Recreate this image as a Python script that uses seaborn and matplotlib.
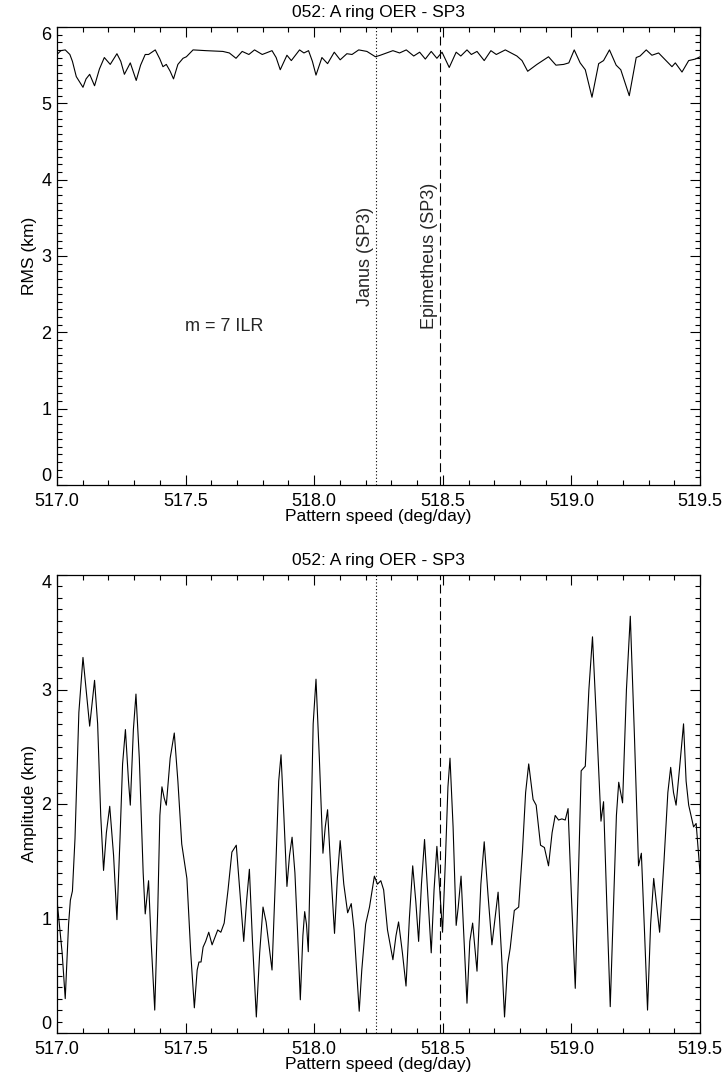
import numpy as np
import pandas as pd
import matplotlib
matplotlib.use("Agg")
import matplotlib.pyplot as plt
import seaborn as sns
from matplotlib.ticker import MultipleLocator

# ---------------- data ----------------
title = "052: A ring OER - SP3"
xlabel = "Pattern speed (deg/day)"
top_ylabel = "RMS (km)"
bot_ylabel = "Amplitude (km)"
janus_speed = 518.24
epimetheus_speed = 518.49
janus_label = "Janus (SP3)"
epimetheus_label = "Epimetheus (SP3)"
resonance_label = "m = 7 ILR"

rms_speed = [
    517.000, 517.015, 517.032, 517.050, 517.060, 517.075, 517.101, 517.113, 517.127, 517.146,
    517.165, 517.184, 517.207, 517.233, 517.248, 517.262, 517.285, 517.308, 517.325, 517.343,
    517.356, 517.382, 517.400, 517.412, 517.425, 517.440, 517.453, 517.470, 517.490, 517.503,
    517.529, 517.580, 517.645, 517.670, 517.696, 517.720, 517.746, 517.768, 517.798, 517.836,
    517.852, 517.868, 517.894, 517.911, 517.943, 517.960, 517.978, 517.993, 518.007, 518.030,
    518.052, 518.078, 518.101, 518.127, 518.147, 518.173, 518.205, 518.238, 518.257, 518.306,
    518.332, 518.358, 518.387, 518.410, 518.432, 518.455, 518.477, 518.497, 518.525, 518.552,
    518.570, 518.594, 518.611, 518.633, 518.661, 518.687, 518.708, 518.743, 518.788, 518.808,
    518.830, 518.866, 518.911, 518.940, 518.970, 518.990, 519.011, 519.034, 519.054, 519.080,
    519.106, 519.125, 519.148, 519.174, 519.192, 519.225, 519.252, 519.267, 519.291, 519.313,
    519.339, 519.391, 519.404, 519.430, 519.456, 519.482, 519.500,
]
rms_km = [
    5.64, 5.69, 5.70, 5.64, 5.55, 5.35, 5.21, 5.32, 5.38, 5.23,
    5.45, 5.60, 5.51, 5.65, 5.55, 5.38, 5.53, 5.30, 5.50, 5.64,
    5.64, 5.70, 5.58, 5.48, 5.51, 5.42, 5.32, 5.51, 5.59, 5.61,
    5.70, 5.69, 5.68, 5.66, 5.59, 5.68, 5.64, 5.70, 5.64, 5.69,
    5.60, 5.44, 5.63, 5.56, 5.70, 5.66, 5.69, 5.55, 5.37, 5.60,
    5.52, 5.67, 5.57, 5.65, 5.64, 5.70, 5.68, 5.61, 5.63, 5.69,
    5.66, 5.70, 5.62, 5.67, 5.58, 5.68, 5.59, 5.67, 5.47, 5.67,
    5.62, 5.70, 5.64, 5.68, 5.56, 5.69, 5.64, 5.70, 5.62, 5.56,
    5.42, 5.51, 5.61, 5.50, 5.51, 5.53, 5.70, 5.53, 5.44, 5.08,
    5.52, 5.56, 5.70, 5.50, 5.44, 5.10, 5.60, 5.62, 5.70, 5.63,
    5.66, 5.48, 5.53, 5.41, 5.56, 5.58, 5.61,
]

amp_speed = [
    517.000, 517.020, 517.032, 517.045, 517.052, 517.060, 517.070, 517.085, 517.101, 517.113,
    517.127, 517.146, 517.158, 517.170, 517.181, 517.192, 517.205, 517.220, 517.233, 517.245,
    517.255, 517.266, 517.278, 517.285, 517.297, 517.307, 517.320, 517.335, 517.343, 517.356,
    517.366, 517.380, 517.392, 517.400, 517.408, 517.417, 517.425, 517.440, 517.456, 517.470,
    517.485, 517.495, 517.505, 517.520, 517.534, 517.545, 517.552, 517.560, 517.568, 517.578,
    517.590, 517.603, 517.625, 517.637, 517.650, 517.665, 517.680, 517.697, 517.712, 517.726,
    517.737, 517.748, 517.760, 517.775, 517.788, 517.801, 517.813, 517.825, 517.836, 517.850,
    517.862, 517.871, 517.882, 517.894, 517.904, 517.914, 517.925, 517.935, 517.946, 517.956,
    517.963, 517.970, 517.977, 517.985, 517.996, 518.007, 518.020, 518.034, 518.043, 518.052,
    518.065, 518.079, 518.090, 518.101, 518.115, 518.130, 518.144, 518.155, 518.165, 518.175,
    518.185, 518.200, 518.215, 518.234, 518.246, 518.259, 518.270, 518.285, 518.306, 518.318,
    518.328, 518.343, 518.357, 518.370, 518.383, 518.395, 518.406, 518.417, 518.429, 518.442,
    518.455, 518.466, 518.477, 518.488, 518.499, 518.510, 518.520, 518.528, 518.540, 518.552,
    518.560, 518.571, 518.583, 518.594, 518.605, 518.616, 518.633, 518.648, 518.661, 518.676,
    518.691, 518.715, 518.728, 518.740, 518.752, 518.762, 518.778, 518.795, 518.810, 518.822,
    518.834, 518.851, 518.863, 518.880, 518.895, 518.911, 518.925, 518.937, 518.950, 518.963,
    518.976, 518.987, 519.000, 519.015, 519.030, 519.038, 519.054, 519.068, 519.082, 519.098,
    519.115, 519.125, 519.138, 519.151, 519.165, 519.175, 519.184, 519.199, 519.214, 519.229,
    519.245, 519.261, 519.272, 519.284, 519.296, 519.308, 519.320, 519.343, 519.360, 519.375,
    519.386, 519.397, 519.407, 519.420, 519.436, 519.446, 519.456, 519.475, 519.485, 519.500,
]
amp_km = [
    1.16, 0.70, 0.30, 0.95, 1.16, 1.24, 1.70, 2.80, 3.28, 3.00,
    2.68, 3.08, 2.70, 1.90, 1.42, 1.75, 1.98, 1.55, 0.99, 1.70,
    2.35, 2.65, 2.20, 1.99, 2.65, 2.96, 2.40, 1.40, 1.04, 1.33,
    0.80, 0.20, 1.10, 1.90, 2.15, 2.05, 1.99, 2.40, 2.62, 2.20,
    1.65, 1.50, 1.35, 0.70, 0.22, 0.55, 0.62, 0.62, 0.75, 0.80,
    0.88, 0.77, 0.90, 0.88, 0.96, 1.25, 1.58, 1.64, 1.20, 0.80,
    1.15, 1.43, 0.80, 0.14, 0.70, 1.10, 0.97, 0.75, 0.55, 1.40,
    2.20, 2.43, 1.90, 1.28, 1.55, 1.71, 1.40, 0.90, 0.29, 0.85,
    1.06, 0.95, 0.71, 1.50, 2.70, 3.09, 2.40, 1.57, 1.80, 1.95,
    1.40, 0.87, 1.35, 1.68, 1.30, 1.05, 1.13, 0.90, 0.55, 0.19,
    0.55, 0.95, 1.10, 1.37, 1.30, 1.33, 1.25, 0.90, 0.64, 0.85,
    0.97, 0.70, 0.41, 1.00, 1.46, 1.15, 0.80, 1.30, 1.69, 1.20,
    0.70, 1.25, 1.63, 1.25, 0.88, 1.50, 2.15, 2.40, 1.80, 0.94,
    1.10, 1.37, 0.80, 0.26, 0.80, 0.96, 0.54, 1.30, 1.67, 1.20,
    0.77, 1.23, 0.70, 0.14, 0.60, 0.74, 1.07, 1.10, 1.60, 2.10,
    2.35, 2.04, 1.99, 1.64, 1.62, 1.46, 1.75, 1.90, 1.86, 1.87,
    1.86, 1.96, 1.20, 0.39, 1.60, 2.29, 2.33, 3.00, 3.46, 2.70,
    1.85, 2.02, 1.10, 0.23, 1.20, 1.90, 2.19, 2.01, 3.00, 3.64,
    2.60, 1.46, 1.57, 0.90, 0.20, 0.95, 1.35, 0.88, 1.50, 2.10,
    2.32, 2.10, 1.99, 2.30, 2.70, 2.20, 1.99, 1.80, 1.83, 1.40,
]

# ---------------- style ----------------
sns.set_theme(style="white")
plt.rcParams["font.family"] = ["Liberation Sans", "DejaVu Sans"]
plt.rcParams["font.size"] = 13

fig = plt.figure(figsize=(7.23, 10.84), dpi=100)
W, H = 723.0, 1084.0
left, right = 57 / W, 700 / W
ax1 = fig.add_axes([left, 1 - 485 / H, right - left, (485 - 27) / H])
ax2 = fig.add_axes([left, 1 - 1033 / H, right - left, (1033 - 575) / H])

df_top = pd.DataFrame({"speed": rms_speed, "rms": rms_km})
df_bot = pd.DataFrame({"speed": amp_speed, "amp": amp_km})

sns.lineplot(data=df_top, x="speed", y="rms", ax=ax1, color="black", lw=0.8, estimator=None, sort=False)
sns.lineplot(data=df_bot, x="speed", y="amp", ax=ax2, color="black", lw=0.8, estimator=None, sort=False)

for ax, ymax, ylab in [(ax1, 6, top_ylabel), (ax2, 4, bot_ylabel)]:
    ax.set_xlim(517.0, 519.5)
    ax.set_ylim(0, ymax)
    ax.axvline(janus_speed, color="black", lw=0.8, ls=(0, (1, 2)))
    ax.axvline(epimetheus_speed, color="black", lw=0.8, ls=(0, (8, 4)))
    ax.set_title(title, fontsize=12.5, pad=7, color="black")
    ax.set_xlabel(xlabel, fontsize=12.5, labelpad=-1, color="black")
    ax.set_ylabel(ylab, fontsize=12.5, labelpad=3, color="black")
    ax.xaxis.set_major_locator(MultipleLocator(0.5))
    ax.xaxis.set_minor_locator(MultipleLocator(0.1))
    ax.yaxis.set_major_locator(MultipleLocator(1))
    ax.yaxis.set_minor_locator(MultipleLocator(0.1))
    ax.xaxis.set_major_formatter(matplotlib.ticker.FormatStrFormatter("%.1f"))
    ax.tick_params(which="both", direction="in", top=True, right=True, bottom=True, left=True,
                   color="black", labelsize=13, labelcolor="black", width=0.8)
    ax.tick_params(which="major", length=7)
    ax.tick_params(which="minor", length=3.5)
    ax.tick_params(axis="x", which="major", pad=6)
    ax.tick_params(axis="y", which="major", pad=4)
    for s in ax.spines.values():
        s.set_color("black")
        s.set_linewidth(0.9)
    ax.set_facecolor("white")

ax1.text(janus_speed - 0.008, 3.0, janus_label, rotation=90, ha="right", va="center", fontsize=13)
ax1.text(epimetheus_speed - 0.008, 3.0, epimetheus_label, rotation=90, ha="right", va="center", fontsize=13)
ax1.text(517.65, 2.08, resonance_label, ha="center", va="center", fontsize=13)

# end labels of the y axes sit inside the box, as in the original
fig.canvas.draw()
for ax, ymax in [(ax1, 6), (ax2, 4)]:
    for tick in ax.yaxis.get_major_ticks():
        loc = tick.get_loc()
        if abs(loc) < 1e-9:
            tick.label1.set_verticalalignment("bottom")
        elif abs(loc - ymax) < 1e-9:
            tick.label1.set_verticalalignment("top")

fig.savefig("out.png", dpi=100, facecolor="white")
